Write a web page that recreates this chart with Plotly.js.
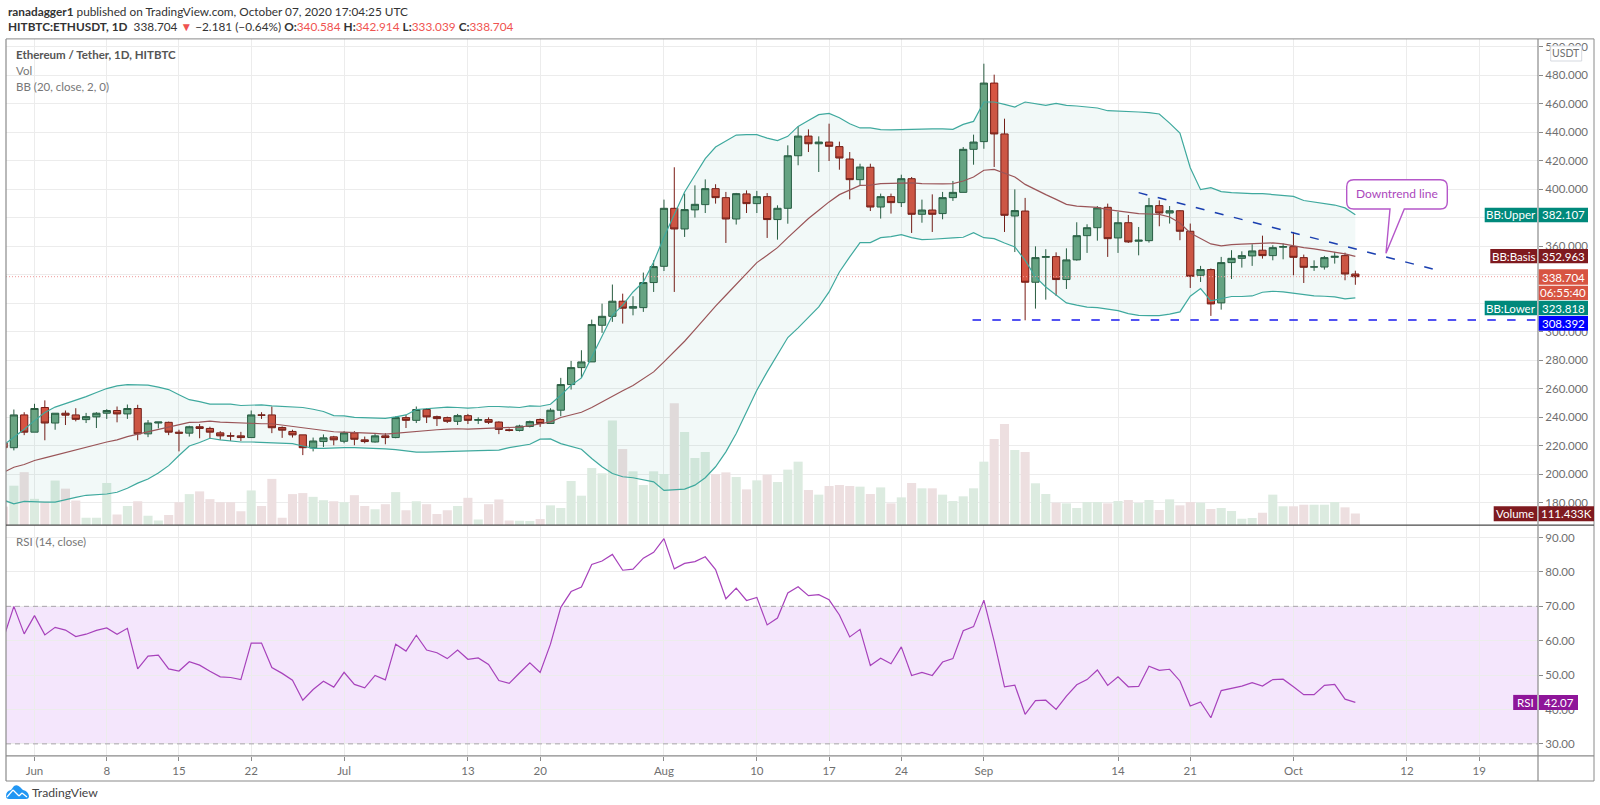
<!DOCTYPE html>
<html><head><meta charset="utf-8">
<script src="https://cdn.plot.ly/plotly-3.0.1.min.js"></script>
<style>html,body{margin:0;padding:0;background:#fff}#c{width:1600px;height:805px}</style>
</head><body><div id="c"></div>
<script>
const startDate = '2020-05-29';
const open = [222,218.7,241.7,
229.6,246.9,236.0,242.9,241.7,238.4,240.3,242.9,244.8,242.4,246.2,228.4,236,236.5,229.6,228.9,233.4,232.2,229.1,227,227,225.8,241.7,241.7,232.9,230.1,227.7,218.5,223,226.3,
223.2,229.1,224.2,222.7,227,225.8,239.8,237.9,245.5,240.5,239.8,237.2,241.2,237.9,238.4,236.7,231.3,230.8,233.6,238.5,235.7,245,263,274.9,278.9,304.6,310.9,321.5,316.6,317,334.6,
346,386.7,372.2,385.6,389.3,400.5,394.2,379.2,396.8,390,394.9,378.8,386.7,423.6,437.4,432,433.2,430,421.3,406.8,415.5,387.6,394.9,390.7,407.5,382.5,385.5,383,394.2,397.9,428.1,
433.5,474.6,438.9,381.3,384.8,334.8,352.3,352.8,336.7,350.5,367.5,373.1,387.4,365.9,376.6,363.6,364,388.6,383.4,385,370.6,339.7,343.7,320.3,348.6,351.6,353.3,357.3,353.5,359.4,
359.8,352.1,345.5,345.5,352.3,353.5,340.584];
const high = [225,245.5,243.6,
249.5,251.9,242.9,244.8,246.4,243.1,243.6,245.7,247.6,249,248.8,238.1,236.7,237,231.3,234.1,235.3,233.4,230.3,229.4,229.8,244.8,243.6,247.6,233.6,231.3,227.7,225.8,228,227,
230.3,230.3,226.5,228.9,228.9,240.7,241.7,247.6,246.4,241.2,240.5,242.4,242.4,240,240,237.2,232.2,234.8,237.7,239.2,246.4,267.7,279.6,287.1,308.6,319.8,333.2,326.8,325,341.6,350.2,
392.8,415.5,397,402.8,407,403.6,398.2,397.5,399.3,398.9,397.4,388.8,430.9,444.2,442.1,437.2,446.1,433.5,426.2,418,418,397,397,410.3,408.7,392.8,396.5,398.2,405.9,429.7,438.4,
488.2,480.5,449.6,400,394,360,358,355.8,358.6,376.9,375.5,388.3,390,384.1,382,373.6,394,392.3,388.3,385.3,376,346.3,344.5,352.6,357.3,356.5,361.5,367.5,360.8,362,
370.1,354.2,350.2,353.3,356.1,355.6,342.914];
const low = [216,216.8,227.5,
229.6,223.9,231.3,234.6,237.2,236,232.5,238.9,236.5,238.9,223.9,226.1,232.2,227.5,216.1,226.5,225.3,225.3,224.2,223.4,223.4,225.8,238.9,228.9,225.6,225.8,213.5,216.1,219.2,220.4,
221.8,220.4,221.8,222.3,221.1,225.3,232.5,236,236,233.9,236,234.6,235.3,235.3,235.3,228.2,230.1,230.1,232.9,233.3,235.7,240.8,259.5,267.7,278.9,299.3,307,305.8,311.6,314,328,
342.7,328,366.6,380.2,383.4,390,362.4,375.3,383.4,383.4,365.9,364.7,375.9,416.9,426.2,412.2,419.9,413.8,393,402.4,384.8,379.5,383,387.6,369.4,376.6,370.1,379,391.9,397.9,417.3,
428.5,415.7,370.1,356,308.1,316.3,322.6,325.2,330.1,350,355.4,364,352.6,355.4,362.4,353.7,362.6,374.1,376,364.3,330.8,335,311.2,315.6,337.1,345.1,346.3,351.4,350.2,350.9,
339.7,334.3,342.8,343.7,347.9,336.2,333.039];
const close = [218.7,241.7,229.6,
246.2,236,242.9,241.5,238.6,240.5,242.9,244.8,242.4,246.2,228.4,236,236.7,229.6,228.9,233.4,232.2,229.6,227,226.9,225.8,241.7,241.5,232.7,231,227.7,218.7,223.4,225.6,224.2,
229.1,224.6,223,227,225.8,239.8,237.9,245.5,240.3,239.1,237.2,241.2,237.9,238.4,236.5,231.5,230.8,233.9,237,235.7,245,263,274.9,278.9,305.1,310.9,321.5,316.6,317.7,334.6,345.8,
386.7,372.2,385.8,389.5,400.5,394.2,379.2,397,390,394.9,378.8,386.7,423.6,437.4,432,433.2,430.2,422,406.8,415.7,387.6,394.9,390.7,407.5,382.5,385.5,382.5,394.2,397.9,428.1,433.2,
474.6,438.9,381.8,385.1,334.8,352.1,352.8,336.7,350.5,367.5,373.1,387,365.4,376.6,363.1,364.3,388.6,383.4,385,370.6,339,343.7,319.6,348.6,351.6,353.5,356.8,353.5,359.1,359.8,
352.3,345.3,345.6,352.1,353,340.6,338.704];
const volumeK = [177,376,505,
251,225,425,348,235,71,71,402,103,183,228,90,45,96,219,296,322,248,219,219,132,331,183,441,71,296,306,270,238,228,
219,286,183,151,200,315,142,228,200,106,142,183,261,55,200,245,45,42,40,58,189,164,421,281,545,494,998,725,513,383,513,
487,1160,887,640,697,487,503,459,341,427,481,411,529,605,335,291,373,383,373,367,297,360,208,265,402,351,351,291,230,275,351,
605,820,963,716,697,399,297,214,208,164,221,221,208,230,240,211,240,145,246,189,221,214,154,164,135,62,69,119,291,180,
180,195,195,195,221,170,111.433];
const bbUpper = [220.4,225.8,231.7,
237.7,243.4,247.2,249.5,251.9,254.5,257.4,260.2,262.1,263,262.8,262.6,261.2,259.5,255.9,252.4,251,249.3,249.3,249.3,248.3,248.8,248.8,248.1,247.6,247.4,246.9,245.7,244.1,241.2,
241,240,239.6,239.6,239.3,240.3,241.7,245.5,246,246.9,247.2,246.9,246.5,246.9,247.6,247.6,247.2,246.9,248,247.8,249.2,255.5,262.6,267.7,282.4,297.6,311.6,318.7,328,335,349,
366.6,383,398.2,409.9,421.6,429.7,434,438.1,438.4,438.4,436,434.2,437.2,444.2,448.4,452.4,453.3,450.3,446.1,443.1,443.1,441.9,441.7,441.9,442.4,442.4,442.4,442.4,442.1,445.6,447.7,
461.3,461.3,459.6,457.8,461.3,460.1,459,460.4,459,458.5,457.8,457.1,455.2,455,454.5,454.3,453.8,452.9,446.5,439.5,415.2,399.8,401.2,398.4,397.7,397.2,397,397,396.5,396,
395.1,392.2,391.3,390,389,387,382.107];
const bbBasis = [201.4,205,206.9,
209.7,211.6,213.5,215.6,217.5,219.4,221.1,222.7,224.2,226.5,228.2,229.9,231.7,233.4,234.8,236.5,236.7,237.4,236.7,236.3,236,235.8,235.5,235.5,234.6,233.6,232.7,231.7,230.8,229.9,
229.6,229.4,228.9,228.7,228.2,228.9,229.6,230.3,231,231.3,231.7,232,231.7,232,232.2,232.5,232.5,233.2,234.1,235.7,236.8,239.9,241.5,243.6,246.9,250.9,255.1,258.6,262.3,267,271.9,
278.9,285.9,293.4,301.6,310,318,325.7,333.4,340.9,348.6,353.7,359.1,366.1,373.1,379.5,385.3,391.2,396.3,399.3,402.8,403,404,404.2,404.5,404.5,404,403.8,403.8,404,405.9,408.7,
413.4,414,411.5,408.7,403.5,399.8,396.3,393,389.5,388.3,387.6,387.4,385.8,384.9,383.9,383,382.7,382.5,380.6,376.4,369.4,365.4,361.7,360.3,361.2,361.5,361.9,362.4,362.4,361.7,
360.3,359.1,358.2,357,356.1,354.7,352.963];
const bbLower = [181.9,179.3,181,
180.5,180.5,180.5,182.4,183.8,185.3,185.7,186.2,187.4,190.2,193.8,196.7,200.9,206.1,213.2,219.9,222.3,225.3,224.2,223.4,222.7,222.7,222.5,222.5,222.3,221.6,219.9,218.2,218.2,218.7,
218.7,218.7,218.5,218.2,217.8,217.3,216.6,215.6,215.6,215.9,216.1,216.3,216.3,216.6,216.8,217,218.7,219.9,221.1,224.7,224.9,221.6,219.8,217.6,211.1,205.3,200.6,198.3,197.6,195.9,194.7,
188.7,188.9,189.6,192.4,197.6,205.3,215.8,228.6,243.8,259,271.9,284.3,296,302.8,310.5,317.5,328,342,352.6,362.6,362.6,366.1,366.8,368.2,366.1,364.7,365,365.2,365.9,366.4,369.6,
366.1,365.4,362.4,359.6,350.2,338.5,331.5,325.7,320.3,318.7,317.3,317,315.9,314.9,312.8,311.6,311.4,311.4,312.4,314,325,330.4,321.7,323.1,324.8,324.8,325.2,327.8,328.5,328,
327.1,326.4,325.2,325,324.5,323.1,323.818];
const rsi = [60.8,70,62,
67.3,61.7,63.9,63.1,61.2,61.9,63,63.7,61.9,63.6,51.8,55.5,55.8,51.8,51.2,53.9,52.9,51.1,49.5,49.3,48.7,59.3,59.3,52.2,50.5,48.5,42.7,45.8,48.2,46.5,
50.8,47.3,46.3,49.9,48.6,59,57,61.6,57.3,56.5,54.8,57.3,54.6,55,53.1,48.4,47.6,50.6,53.6,50.8,59,69.7,74.3,75.6,82.2,83.2,85.1,80.5,80.8,84,85.7,
89.7,80.9,82.5,83,84.4,80.7,72.2,75.3,71.7,72.6,64.6,66.6,73.9,75.7,73.1,73.4,71.9,67.5,61.1,63.3,52.8,54.9,53.3,58.2,49.9,50.8,49.9,53.8,54.8,62.9,64.1,
71.8,59.8,46.6,47.1,38.6,42.6,42.7,40,43.9,47.2,48.7,51.5,47,49.5,46.6,46.7,52.6,51.4,51.7,48.3,41,42.2,37.6,45.5,46.2,46.8,47.8,46.8,48.7,48.8,
46.6,44.3,44.3,47,47.3,43,42.07];
const tickDates = ['2020-06-01','2020-06-08','2020-06-15','2020-06-22','2020-07-01','2020-07-13','2020-07-20','2020-08-01','2020-08-10','2020-08-17','2020-08-24','2020-09-01','2020-09-14','2020-09-21','2020-10-01','2020-10-12','2020-10-19'];
const tickLabels = ['Jun','8','15','22','Jul','13','20','Aug','10','17','24','Sep','14','21','Oct','12','19'];
const priceTicks = [180,200,220,240,260,280,300,320,340,360,380,400,420,440,460,480,500];
const priceTickLabels = ['180.000','200.000','220.000','240.000','260.000','280.000','300.000','','','360.000','','400.000','420.000','440.000','460.000','480.000','500.000'];
const rsiTicks = [30,40,50,60,70,80,90];
const rsiTickLabels = ['30.00','40.00','50.00','60.00','70.00','80.00','90.00'];

const dates = open.map((_, i) => new Date(Date.parse(startDate + 'T00:00:00Z') + i * 864e5).toISOString().slice(0, 10));
const volColors = open.map((o, i) => close[i] >= o ? '#dcebe0' : '#eddfe0');

const W = 1600, H = 805;
const px = x => x / W, py = y => 1 - y / H;
const FONT = 'Lato, sans-serif';
const GRID = '#ececec', AX = '#8a8a8a', TXT = '#6f6f6f';

const traces = [
  {type:'bar', x:dates, y:volumeK, xaxis:'x', yaxis:'y', marker:{color:volColors, line:{width:0}}, width:864e5*0.88, hoverinfo:'skip'},
  {type:'scatter', mode:'lines', x:dates, y:bbLower, xaxis:'x', yaxis:'y2', line:{color:'#3fa99e', width:1.2}, hoverinfo:'skip'},
  {type:'scatter', mode:'lines', x:dates, y:bbUpper, xaxis:'x', yaxis:'y2', line:{color:'#3fa99e', width:1.2}, fill:'tonexty', fillcolor:'rgba(0,137,123,0.05)', hoverinfo:'skip'},
  {type:'scatter', mode:'lines', x:dates, y:bbBasis, xaxis:'x', yaxis:'y2', line:{color:'#9a5558', width:1.2}, hoverinfo:'skip'},
  {type:'candlestick', x:dates, open:open, high:high, low:low, close:close, xaxis:'x', yaxis:'y2', whiskerwidth:0,
   increasing:{line:{color:'#2a5c40', width:1}, fillcolor:'#6ba583'},
   decreasing:{line:{color:'#7a1a14', width:1}, fillcolor:'#d75442'}, hoverinfo:'skip'},
  {type:'scatter', mode:'lines', x:dates, y:rsi, xaxis:'x', yaxis:'y3', line:{color:'#a742bb', width:1.2}, hoverinfo:'skip'}
];

function roundedCallout(l,r,t,b,rad,tx0,tipx,tipy,tx1){
  return `M${px(l+rad)},${py(t)} L${px(r-rad)},${py(t)} Q${px(r)},${py(t)} ${px(r)},${py(t+rad)} L${px(r)},${py(b-rad)} Q${px(r)},${py(b)} ${px(r-rad)},${py(b)} L${px(tx1)},${py(b)} L${px(tipx)},${py(tipy)} L${px(tx0)},${py(b)} L${px(l+rad)},${py(b)} Q${px(l)},${py(b)} ${px(l)},${py(b-rad)} L${px(l)},${py(t+rad)} Q${px(l)},${py(t)} ${px(l+rad)},${py(t)} Z`;
}
const pline = (x0,y0,x1,y1,color,width,dash) => ({type:'line', xref:'paper', yref:'paper', x0:px(x0), x1:px(x1), y0:py(y0), y1:py(y1), line:{color, width, dash:dash||'solid'}});

const TEAL='#00897b', DRED='#7f1a1f', ORED='#d75442', BLUE='#0000ff', PUR='#8e1599';
const boxes = [
  ['BB:Upper',1484.7,1537,207.7,222.3,TEAL], ['382.107',1538.7,1588,207.7,222.3,TEAL],
  ['BB:Basis',1490.3,1537,249,263.3,DRED], ['352.963',1538.7,1588,249,263.3,DRED],
  ['338.704',1538.7,1588,269.3,284.7,ORED], ['06:55:40',1538.7,1588,285.8,300,ORED],
  ['BB:Lower',1484.7,1537,300.7,315.3,TEAL], ['323.818',1538.7,1588,300.7,315.3,TEAL],
  ['308.392',1538.7,1588,316,330.7,BLUE],
  ['Volume',1493.7,1537,506.3,521.3,DRED], ['111.433K',1538.7,1594,506.3,521.3,DRED],
  ['RSI',1513.2,1537,694.9,710,PUR], ['42.07',1539,1578,694.9,710,PUR]
];

const shapes = [
  {type:'rect', xref:'x', x0:'2020-05-20', x1:'2020-10-30', yref:'y3', y0:30, y1:70, fillcolor:'rgba(155,39,230,0.115)', line:{width:0}, layer:'below'},
  {type:'line', xref:'paper', x0:px(6), x1:px(1538), yref:'y3', y0:70, y1:70, line:{color:'#a9a3ad', width:1, dash:'5px,4px'}},
  {type:'line', xref:'paper', x0:px(6), x1:px(1538), yref:'y3', y0:30, y1:30, line:{color:'#a9a3ad', width:1, dash:'5px,4px'}},
  {type:'line', xref:'paper', x0:px(6), x1:px(1538), yref:'y2', y0:338.704, y1:338.704, line:{color:'#ef9a9a', width:1, dash:'1px,2px'}},
  {type:'line', xref:'x', x0:'2020-08-30 21:36', x1:'2020-10-24 16:00', yref:'y2', y0:308.392, y1:308.392, line:{color:'#1a1aee', width:1.5, dash:'8.5px,11.3px'}},
  {type:'line', xref:'x', x0:'2020-09-16', x1:'2020-10-14 12:00', yref:'y2', y0:397.7, y1:344.1, line:{color:'#1a3fb0', width:1.5, dash:'9px,10.67px'}},
  {type:'path', xref:'paper', yref:'paper', path:roundedCallout(1346.7,1447.3,179.7,209,7,1390,1386,253.3,1404.3), fillcolor:'#ffffff', line:{color:'#b557c9', width:1.4}},
  pline(6,38.9,1594,38.9,AX,1), pline(6,38.9,6,781,AX,1.2), pline(1594,38.9,1594,781,AX,1), pline(6,781,1594,781,AX,1.2),
  pline(6,525.2,1594,525.2,'#4a4a4a',1.2), pline(6,755.9,1594,755.9,AX,1.2), pline(1538,38.9,1538,781,AX,1.2),
  {type:'path', xref:'paper', yref:'paper', path:`M${px(6)},${py(796)} Q${px(6)},${py(791)} ${px(11)},${py(790)} L${px(14)},${py(786)} Q${px(17)},${py(784)} ${px(20)},${py(787)} L${px(23)},${py(790)} Q${px(28)},${py(791)} ${px(29)},${py(796)} Q${px(29)},${py(799)} ${px(26)},${py(799)} L${px(9)},${py(799)} Q${px(6)},${py(799)} ${px(6)},${py(796)} Z`, fillcolor:'#2196f3', line:{width:0}},
  pline(7,797,13,790,'#ffffff',1.2), pline(13,790,19,796,'#ffffff',1.2), pline(19,796,22,793,'#ffffff',1.2), pline(22,793,27,797,'#ffffff',1.2),
  ...boxes.map(b => ({type:'rect', xref:'paper', yref:'paper', x0:px(b[1]), x1:px(b[2]), y0:py(b[3]), y1:py(b[4]), fillcolor:b[5], line:{width:0}})),
  {type:'rect', xref:'paper', yref:'paper', x0:px(1550.7), x1:px(1581.7), y0:py(46), y1:py(61), fillcolor:'#ffffff', line:{color:'#d5d9e0', width:1}}
];

const txt = (text,x,y,size,color) => ({text, xref:'paper', yref:'paper', x:px(x), y:py(y), xanchor:'left', yanchor:'middle', showarrow:false, font:{family:FONT, size, color}});
const ctr = (text,x,y,size,color) => ({text, xref:'paper', yref:'paper', x:px(x), y:py(y), xanchor:'center', yanchor:'middle', showarrow:false, borderpad:0, font:{family:FONT, size, color}});

const R = '#ef5350';
const annotations = [
  txt('<b>ranadagger1</b> published on TradingView.com, October 07, 2020 17:04:25 UTC',6,11.5,11.8,'#333333'),
  txt(`<b>HITBTC:ETHUSDT, 1D</b>  338.704 <span style="color:${R}">▼</span> −2.181 (−0.64%) <b>O:</b><span style="color:${R}">340.584</span> <b>H:</b><span style="color:${R}">342.914</span> <b>L:</b><span style="color:${R}">333.039</span> <b>C:</b><span style="color:${R}">338.704</span>`,6,27,11.8,'#333333'),
  txt('<b>Ethereum / Tether, 1D, HITBTC</b>',13.5,54.8,11.5,'#555555'),
  txt('Vol',13.5,70.3,11.5,'#777777'),
  txt('BB (20, close, 2, 0)',13.5,86.2,11.5,'#777777'),
  txt('RSI (14, close)',13.5,541,11.5,'#777777'),
  txt('TradingView',30,792,12.2,'#444444'),
  ctr('Downtrend line',1397,193.5,12,'#ab47bc'),
  ...boxes.map(b => ctr(b[0],(b[1]+b[2])/2,(b[3]+b[4])/2,11.5,'#ffffff')),
  ctr('USDT',1566.2,53.5,10.5,'#6f6f6f')
];

const layout = {
  width:W, height:H, autosize:false, margin:{l:0,r:0,t:0,b:0}, paper_bgcolor:'#ffffff', plot_bgcolor:'#ffffff',
  showlegend:false, barmode:'overlay', hovermode:false, boxgap:0.3, boxgroupgap:0,
  font:{family:FONT, size:12, color:TXT},
  xaxis:{type:'date', domain:[px(6),px(1538)], range:['2020-05-29 05:42','2020-10-24 16:48'], anchor:'y3',
    rangeslider:{visible:false}, tickmode:'array', tickvals:tickDates, ticktext:tickLabels, ticks:'outside', ticklen:4, tickcolor:AX,
    showgrid:true, gridcolor:GRID, gridwidth:1, showline:false, zeroline:false, tickfont:{family:FONT,size:11.5,color:TXT}},
  yaxis:{domain:[py(525.2),py(38.9)], range:[0,4630], visible:false, showgrid:false, zeroline:false, anchor:'x'},
  yaxis2:{domain:[py(525.2),py(38.9)], overlaying:'y', side:'right', anchor:'x', range:[164.3,505.6], tickmode:'array', tickvals:priceTicks, ticktext:priceTickLabels,
    ticks:'outside', ticklen:4, tickcolor:AX, showgrid:true, gridcolor:GRID, gridwidth:1, zeroline:false, showline:false, tickfont:{family:FONT,size:11.5,color:TXT}},
  yaxis3:{domain:[py(755.9),py(525.2)], side:'right', anchor:'x', range:[26.5,93.6], tickmode:'array', tickvals:rsiTicks, ticktext:rsiTickLabels,
    ticks:'outside', ticklen:4, tickcolor:AX, showgrid:true, gridcolor:GRID, gridwidth:1, zeroline:false, showline:false, tickfont:{family:FONT,size:11.5,color:TXT}},
  shapes, annotations
};
Plotly.newPlot('c', traces, layout, {displayModeBar:false, staticPlot:true});
</script></body></html>
